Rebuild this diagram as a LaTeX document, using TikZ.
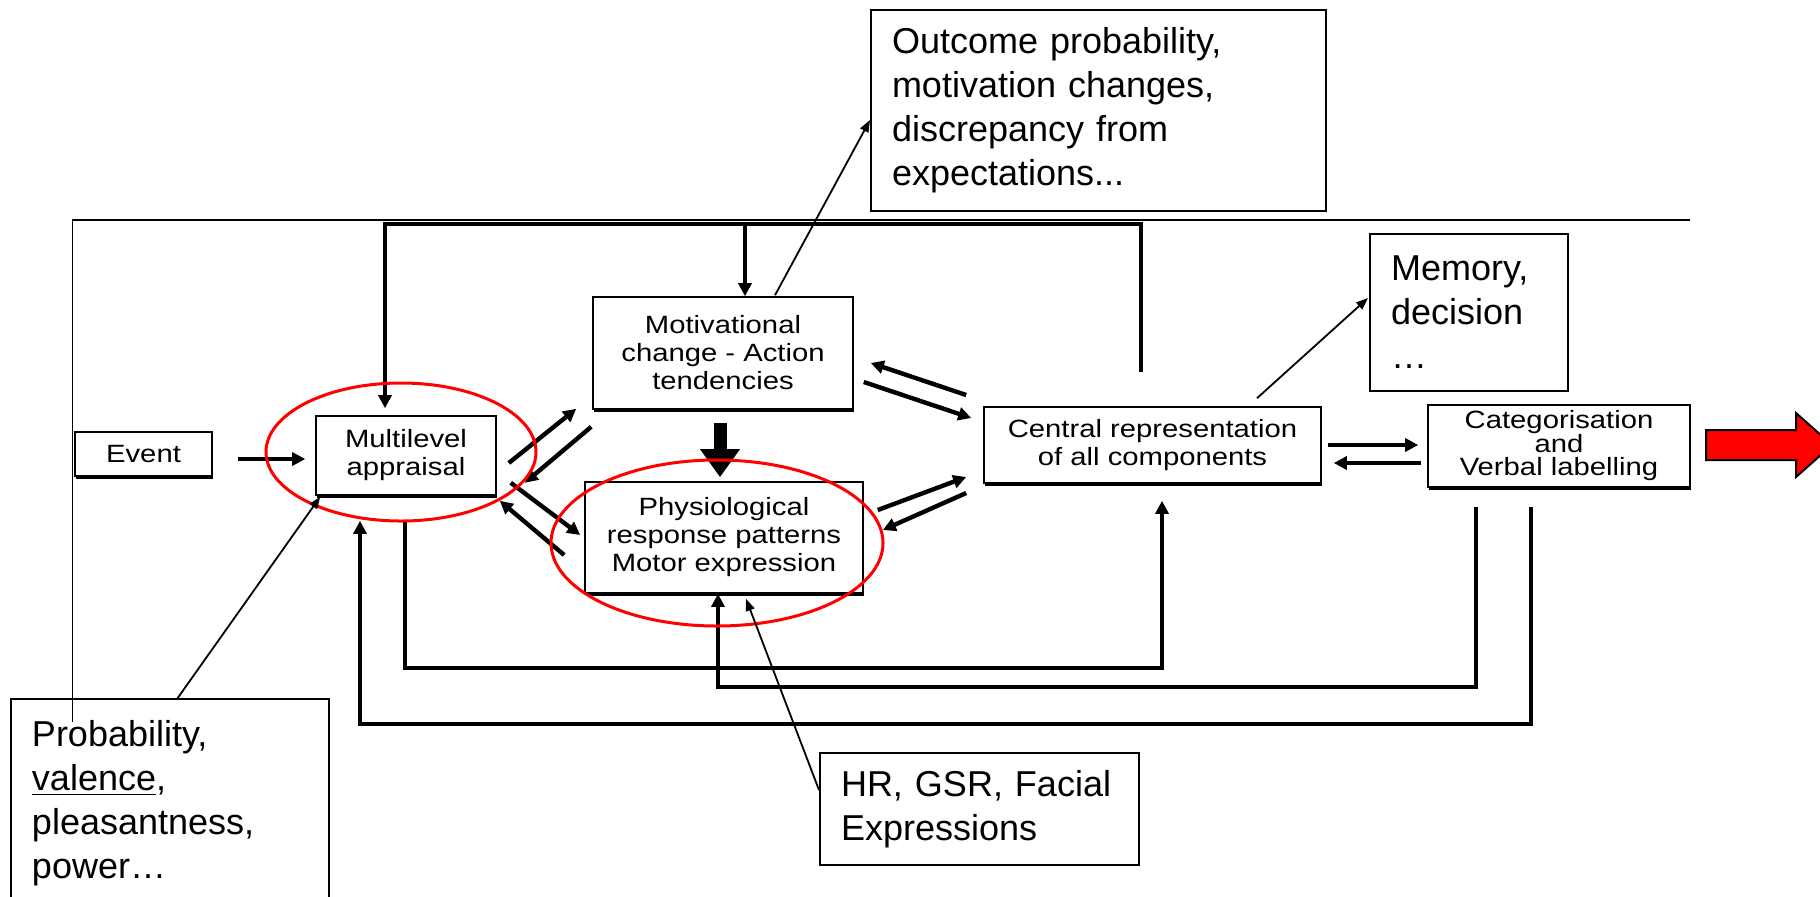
\documentclass[tikz,border=0pt]{standalone}
\usepackage{fontspec}
\setmainfont{Liberation Sans}
\newfontfamily\boxfont[FakeStretch=1.17]{Liberation Sans}
\usepackage{xcolor}
\usepackage{tikz}
\usetikzlibrary{shapes.geometric, arrows, arrows.meta, shadows}
\tikzstyle{process} = [rectangle, inner sep=0pt, align=center, draw=black, fill=white, line width=0.8pt, font=\boxfont\fontsize{12.5}{14}\selectfont, drop shadow={shadow xshift=0.5pt, shadow yshift=-1.3pt, opacity=1, fill=black}]
\tikzstyle{note} = [rectangle, inner xsep=10.5pt, inner ysep=0pt, align=left, draw=black, line width=1pt, font=\fontsize{18}{22}\selectfont]
\tikzstyle{arrow} = [line width=2.2pt, -{Triangle[length=6.5pt, width=6.5pt]}]
\tikzstyle{pointer} = [line width=0.9pt, -{Triangle[length=6pt, width=4.5pt]}]
\tikzstyle{fat} = [line width=6.5pt, -{Triangle[length=14pt, width=19pt]}]
\tikzstyle{ring} = [draw=red, line width=1.5pt]

\begin{document}
\begin{tikzpicture}[x=0.5pt, y=-0.5pt]

   \useasboundingbox (0,0) rectangle (1820,896);

   \draw [line width=1pt] (1690,220) -- (72,220);
   \draw [line width=0.5pt] (72,220) -- (72,722);

   \node (event) [process, minimum width=68.5pt, minimum height=22pt] at (143.5,454) {Event};
   \node (multi) [process, minimum width=90pt, minimum height=39.5pt] at (406,455.5) {Multilevel\\appraisal};
   \node (motiv) [process, minimum width=130pt, minimum height=56pt] at (723,353) {Motivational\\change - Action\\tendencies};
   \node (phys) [process, minimum width=139pt, minimum height=55.5pt] at (724,537.5) {Physiological\\response patterns\\Motor expression};
   \node (central) [process, minimum width=168.5pt, minimum height=38pt] at (1152.5,445) {Central representation\\of all components};
   \node (categ) [process, minimum width=131pt, minimum height=41pt, font=\boxfont\fontsize{12.5}{11.75}\selectfont] at (1559,446) {Categorisation\\and\\Verbal labelling};

   \node (outcome) [note, minimum width=227.5pt, minimum height=100.5pt, text width=206.5pt] at (1098.5,110.5) {Outcome probability,\\motivation changes,\\discrepancy from\\expectations...};
   \node (memory) [note, minimum width=99pt, minimum height=78.5pt, text width=78pt] at (1469,312.5) {Memory,\\decision\\…};
   \node (prob) [note, minimum width=159pt, minimum height=104.5pt, text width=138pt] at (170,803.5) {Probability,\\\underline{valence},\\pleasantness,\\power…};
   \node (hr) [note, minimum width=159.5pt, minimum height=56pt, text width=138.5pt] at (979.5,809) {HR, GSR, Facial\\Expressions};

   \draw [arrow] ([shift={(25,5)}]event.east) -- ([shift={(-10,3.5)}]multi.west);

   \draw [arrow] ([shift={(12,7.5)}]multi.east) -- ([shift={(-16,-1)}]motiv.south west);
   \draw [arrow] ([shift={(-1,17)}]motiv.south west) -- ([shift={(28,-13)}]multi.south east);
   \draw [arrow] ([shift={(14,-13)}]multi.south east) -- ([shift={(-4,-2.5)}]phys.west);
   \draw [arrow] ([shift={(-20,17.5)}]phys.west) -- ([shift={(3,5)}]multi.south east);

   \draw [arrow] ([shift={(-17,-50)}]central.west) -- ([shift={(17,10)}]motiv.east);
   \draw [arrow] ([shift={(10,29)}]motiv.east) -- ([shift={(-12,-27)}]central.west);
   \draw [arrow] ([shift={(14,-27.5)}]phys.east) -- ([shift={(-17,32)}]central.west);
   \draw [arrow] ([shift={(-17,48)}]central.west) -- ([shift={(19,-7.5)}]phys.east);

   \draw [arrow] ([shift={(6,0)}]central.east) -- ([shift={(-9,-1)}]categ.west);
   \draw [arrow] ([shift={(-6,17)}]categ.west) -- ([shift={(12,18)}]central.east);

   \draw [fat] ([shift={(-3,13)}]motiv.south) -- ([shift={(-4,-4)}]phys.north);

   \draw [arrow] ([shift={(-11.5,-34)}]central.north) |- ([shift={(-21,-191)}]multi.north) -- ([shift={(-21,-7)}]multi.north);
   \draw [arrow] ([shift={(22,-72)}]motiv.north) -- ([shift={(22,0)}]motiv.north);
   \draw [arrow] ([shift={(-1,25)}]multi.south) |- ([shift={(9.5,184)}]central.south) -- ([shift={(9.5,17)}]central.south);
   \draw [arrow] ([shift={(-83,19)}]categ.south) |- ([shift={(-6,93)}]phys.south) -- ([shift={(-6,0)}]phys.south);
   \draw [arrow] ([shift={(-28,19)}]categ.south) |- ([shift={(-46,228)}]multi.south) -- ([shift={(-46,25)}]multi.south);

   \draw [ring] ([shift={(-5,-3.5)}]multi.center) ellipse [x radius=67.5pt, y radius=34.5pt];
   \draw [ring] ([shift={(-7,5.5)}]phys.center) ellipse [x radius=83pt, y radius=41.5pt];

   \draw [pointer] ([shift={(52,-1)}]motiv.north) -- ([shift={(0,9.5)}]outcome.west);
   \draw [pointer] ([shift={(104.5,-8)}]central.north) -- ([shift={(-1,-14.5)}]memory.west);
   \draw [pointer] ([shift={(7,1)}]prob.north) -- ([shift={(5,1)}]multi.south west);
   \draw [pointer] ([shift={(0,-19)}]hr.west) -- ([shift={(22,5)}]phys.south);

   \draw [fill=red, draw=black, line width=1pt] (1706,430) -- (1796,430) -- (1796,413) -- (1832,445) -- (1796,477) -- (1796,460) -- (1706,460) -- cycle;

\end{tikzpicture}
\end{document}
